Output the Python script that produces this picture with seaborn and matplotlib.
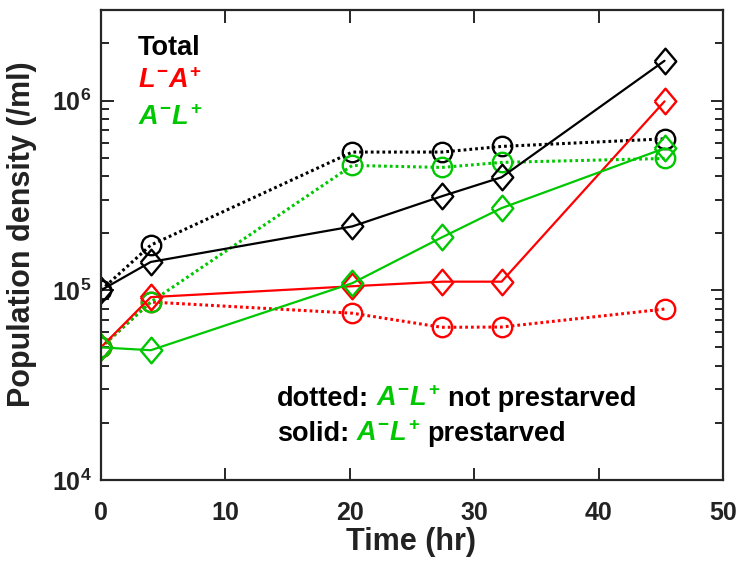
import matplotlib
matplotlib.use("Agg")
import matplotlib.pyplot as plt
import seaborn as sns
import numpy as np
import pandas as pd
from matplotlib.ticker import LogLocator, NullFormatter, FixedLocator

# ---- data ----
time_hr = [0, 4, 20.2, 27.4, 32.2, 45.3]
total_dotted = [1.0e5, 1.73e5, 5.35e5, 5.35e5, 5.73e5, 6.28e5]
total_solid = [1.0e5, 1.41e5, 2.17e5, 3.13e5, 3.94e5, 1.62e6]
la_solid = [5.0e4, 9.2e4, 1.05e5, 1.11e5, 1.11e5, 9.9e5]
la_dotted = [5.0e4, 8.67e4, 7.57e4, 6.38e4, 6.4e4, 7.96e4]
al_dotted = [5.0e4, 8.67e4, 4.55e5, 4.44e5, 4.72e5, 4.95e5]
al_solid = [5.0e4, 4.83e4, 1.09e5, 1.9e5, 2.71e5, 5.6e5]
x_ticks = [0, 10, 20, 30, 40, 50]
y_ticks = [1e4, 1e5, 1e6]

BLACK = "#000000"
RED = "#ff0000"
GREEN = "#00c800"
AXC = "#262626"

sns.set_style("ticks")
plt.rcParams["font.family"] = ["Liberation Sans", "DejaVu Sans"]
plt.rcParams["font.weight"] = "bold"
plt.rcParams["mathtext.fontset"] = "custom"
plt.rcParams["mathtext.it"] = "Liberation Sans:italic:bold"
plt.rcParams["mathtext.rm"] = "Liberation Sans:bold"
plt.rcParams["mathtext.bf"] = "Liberation Sans:bold"

fig = plt.figure(figsize=(7.39, 5.64), dpi=100)
ax = fig.add_axes([101 / 739, 1 - 480 / 564, 622 / 739, 470 / 564])

diamond = [(-0.42, 0), (0, 0.5), (0.42, 0), (0, -0.5), (-0.42, 0)]
dotted = (0, (0.9, 1.0))

series = [
    (total_dotted, BLACK, "o", dotted, 2.2),
    (la_dotted, RED, "o", dotted, 2.2),
    (al_dotted, GREEN, "o", dotted, 2.2),
    (total_solid, BLACK, diamond, "-", 1.6),
    (la_solid, RED, diamond, "-", 1.6),
    (al_solid, GREEN, diamond, "-", 1.6),
]
for vals, col, mk, ls, lw in series:
    df = pd.DataFrame({"t": time_hr, "v": vals})
    ms = 14 if mk == "o" else 18.5
    sns.lineplot(data=df, x="t", y="v", ax=ax, color=col, linestyle=ls, lw=lw,
                 marker=mk, markersize=ms, markerfacecolor="none",
                 markeredgecolor=col, markeredgewidth=1.7, sort=False,
                 legend=False)

ax.set_yscale("log")
ax.set_xlim(0, 50)
ax.set_ylim(1e4, 3e6)
ax.xaxis.set_major_locator(FixedLocator(x_ticks))
ax.yaxis.set_major_locator(FixedLocator(y_ticks))
ax.yaxis.set_minor_locator(LogLocator(base=10, subs=np.arange(2, 10)))
ax.yaxis.set_minor_formatter(NullFormatter())

for s in ax.spines.values():
    s.set_visible(True)
    s.set_linewidth(1.6)
    s.set_color(AXC)
ax.tick_params(which="both", direction="in", top=True, right=True,
               color=AXC, width=1.4)
ax.tick_params(which="major", length=9)
ax.tick_params(which="minor", length=5.5)
ax.tick_params(axis="x", which="major", pad=15, labelsize=18)
ax.tick_params(axis="y", which="major", pad=7, labelsize=18)
for lab in ax.get_xticklabels() + ax.get_yticklabels():
    lab.set_fontweight("bold")
    lab.set_color("#222222")

ax.set_xlabel("Time (hr)", fontsize=22, fontweight="bold", color="#222222")
ax.set_ylabel("Population density (/ml)", fontsize=22, fontweight="bold",
              color="#222222")
ax.xaxis.set_label_coords(0.498, -0.100)
ax.yaxis.set_label_coords(-0.103, 0.523)

# legend-like labels
ax.text(0.0595, 0.904, "Total", transform=ax.transAxes, fontsize=19.5,
        fontweight="bold", color=BLACK, va="baseline", ha="left")
ax.text(0.0595, 0.834, r"$L^{-}A^{+}$", transform=ax.transAxes, fontsize=19.5,
        color=RED, va="baseline", ha="left")
ax.text(0.0595, 0.755, r"$A^{-}L^{+}$", transform=ax.transAxes, fontsize=19.5,
        color=GREEN, va="baseline", ha="left")

fig.canvas.draw()
renderer = fig.canvas.get_renderer()


def multicolor(x, y, parts, gap_px=7):
    cur_x = x
    for txt, col in parts:
        t = ax.text(cur_x, y, txt, transform=ax.transAxes, fontsize=19.5,
                    fontweight="bold", color=col, va="baseline", ha="left")
        bb = t.get_window_extent(renderer)
        cur_x = ax.transAxes.inverted().transform((bb.x1 + gap_px, bb.y0))[0]


multicolor(0.283, 0.157, [("dotted:", BLACK), (r"$A^{-}L^{+}$", GREEN),
                          ("not prestarved", BLACK)])
multicolor(0.283, 0.083, [("solid:", BLACK), (r"$A^{-}L^{+}$", GREEN),
                          ("prestarved", BLACK)])

fig.savefig("out.png", dpi=100)
